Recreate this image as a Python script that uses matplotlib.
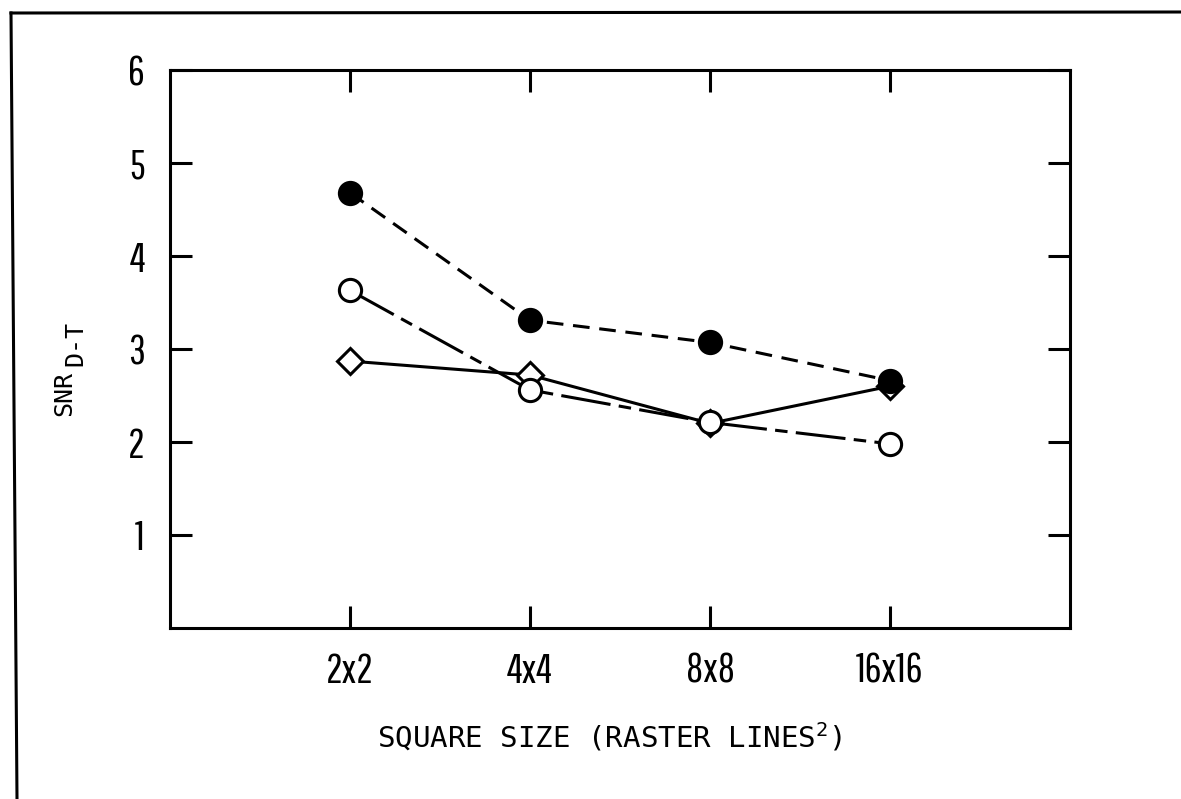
import matplotlib
matplotlib.use("Agg")
import matplotlib.pyplot as plt
from matplotlib.lines import Line2D

# Signal-to-noise ratio versus square size
sizes = ["2x2", "4x4", "8x8", "16x16"]
snr_filled = [4.68, 3.31, 3.07, 2.66]
snr_open = [3.63, 2.56, 2.21, 1.98]
snr_diamond = [2.87, 2.72, 2.20, 2.60]
y_ticks = [1, 2, 3, 4, 5, 6]

plt.rcParams["lines.scale_dashes"] = False
plt.rcParams["mathtext.fontset"] = "custom"
plt.rcParams["mathtext.rm"] = "DejaVu Sans Mono"
plt.rcParams["mathtext.default"] = "rm"

tick_font = ["Pathway Gothic One", "Roboto Condensed", "DejaVu Sans"]
label_font = ["DejaVu Sans Mono"]

W, H = 1181, 799
fig = plt.figure(figsize=(W / 100, H / 100), dpi=100)
fig.patch.set_facecolor("white")

ax = fig.add_axes([170 / W, 1 - 628 / H, 900 / W, 558 / H])
x = list(range(1, len(sizes) + 1))

lw = 2.2
ax.plot(x, snr_diamond, color="black", lw=lw, ls="-",
        marker="D", ms=13, mfc="white", mec="black", mew=lw, zorder=3)
ax.plot(x, snr_open, color="black", lw=lw, ls=(0, (36, 6, 9, 6)),
        marker="o", ms=16, mfc="white", mec="black", mew=lw, zorder=4)
ax.plot(x, snr_filled, color="black", lw=lw, ls=(0, (12, 7)),
        marker="o", ms=16, mfc="black", mec="black", mew=lw, zorder=5)

ax.set_xlim(0, 5)
ax.set_ylim(0, 6)
ax.set_xticks(x)
ax.set_xticklabels(sizes)
ax.set_yticks(y_ticks)
ax.set_yticklabels([str(v) for v in y_ticks])

for s in ax.spines.values():
    s.set_linewidth(lw)
ax.tick_params(direction="in", length=16, width=lw, top=True, right=True,
               labelsize=30, colors="black")
ax.tick_params(axis="x", pad=17)
ax.tick_params(axis="y", pad=18)
for lab in ax.get_xticklabels() + ax.get_yticklabels():
    lab.set_family(tick_font)

fig.text(610 / W, 1 - 737 / H, r"SQUARE SIZE (RASTER LINES$^{2}$)",
         family=label_font, fontsize=21, ha="center", va="center")

# y-axis label: typed subscript sits half a line lower, same size
fig.text(64 / W, 1 - 416 / H, "SNR", family=label_font,
         fontsize=18, rotation=90, ha="center", va="bottom")
fig.text(75 / W, 1 - 366 / H, "D-T", family=label_font,
         fontsize=18, rotation=90, ha="center", va="bottom")

# outer frame of the figure page
fig.add_artist(Line2D([11 / W, 17 / W], [1 - 13 / H, 0], transform=fig.transFigure,
                      color="black", lw=lw))
fig.add_artist(Line2D([11 / W, 1], [1 - 13 / H, 1 - 12 / H], transform=fig.transFigure,
                      color="black", lw=lw))

fig.savefig("out.png", dpi=100, facecolor="white")
